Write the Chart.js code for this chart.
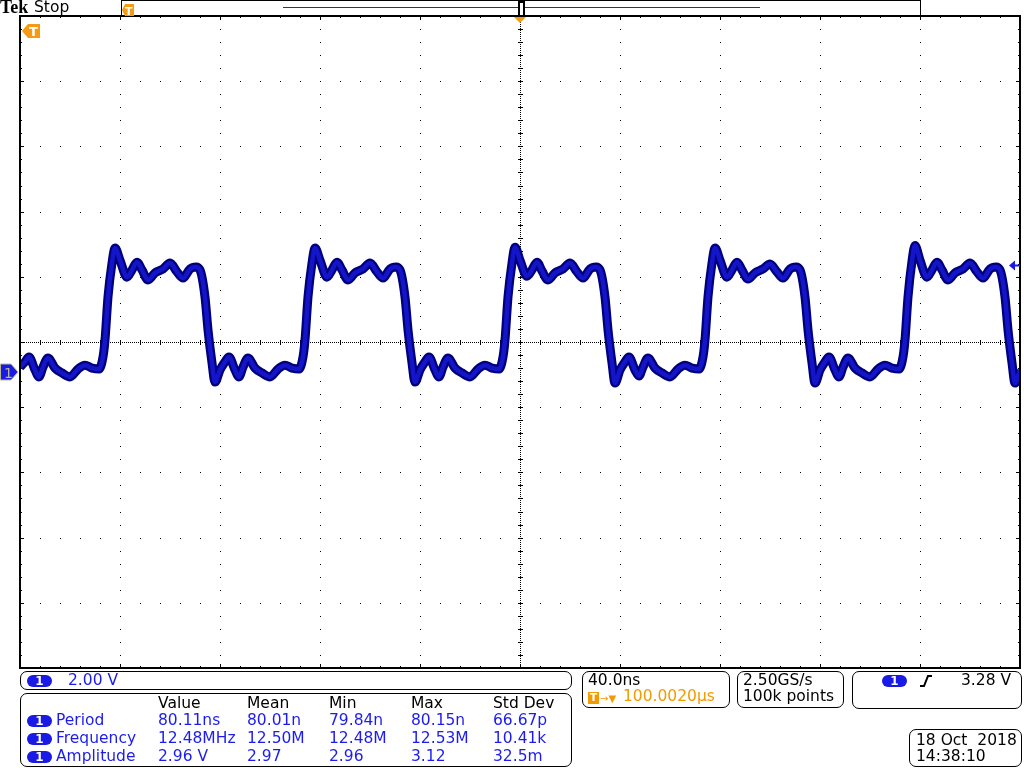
<!DOCTYPE html>
<html>
<head>
<meta charset="utf-8">
<title>Tek Stop - CH1 capture</title>
<script src="https://cdn.jsdelivr.net/npm/chart.js@4.4.1/dist/chart.umd.min.js"></script>
<style>
  body { margin: 0; background: #fff; width: 1024px; height: 768px; overflow: hidden; position: relative;
         font-family: "DejaVu Sans", sans-serif; font-size: 15.5px; }
  #scope { position: absolute; left: 0; top: 0; }
  .t { position: absolute; white-space: pre; }
  .box { position: absolute; border: 1px solid #000; border-radius: 7px; box-sizing: border-box; }
  .badge { position: absolute; width: 25px; height: 12px; border-radius: 6px; background: #1a1ae6; color: #fff;
           font-size: 12px; font-weight: bold; text-align: center; line-height: 12px; }
  .blue { color: #1c1cf0; }
  .orange { color: #f29a00; }
</style>
</head>
<body>
<canvas id="scope" width="1024" height="768"></canvas>
<div id="overlay"></div>
<script>
// CH1 trace, time in ns (trigger at 0), level in volts
var timeNs = [
  -200, -198, -196.4, -194, -192.4, -190.8, -188.8, -186, -183.2, -180, -176.8, -174, -171.2, -168.4, -166.8, -166,
  -164.8, -163.2, -162, -160, -157.2, -155.2, -153.2, -151.2, -148.8, -146, -142.8, -140, -137.2, -134.8, -132, -129.6,
  -128, -126, -124.8, -123.2, -122, -120, -118, -116.4, -114, -112.4, -110.8, -108.8, -106, -103.2, -100, -96.8, -94,
  -91.2, -88.4, -86.8, -86, -84.8, -83.2, -82, -80, -77.2, -75.2, -73.2, -71.2, -68.8, -66, -62.8, -60, -57.2, -54.8, -52, -49.6,
  -48, -46, -44.8, -43.2, -42, -40, -38, -36.4, -34, -32.4, -30.8, -28.8, -26, -23.2, -20, -16.8, -14,
  -11.2, -8.4, -6.8, -6, -4.8, -3.2, -2, 0, 2.8, 4.8, 6.8, 8.8, 11.2, 14, 17.2, 20, 22.8, 25.2, 28, 30.4,
  32, 34, 35.2, 36.8, 38, 40, 42, 43.6, 46, 47.6, 49.2, 51.2, 54, 56.8, 60, 63.2, 66,
  68.8, 71.6, 73.2, 74, 75.2, 76.8, 78, 80, 82.8, 84.8, 86.8, 88.8, 91.2, 94, 97.2, 100, 102.8, 105.2, 108, 110.4,
  112, 114, 115.2, 116.8, 118, 120, 122, 123.6, 126, 127.6, 129.2, 131.2, 134, 136.8, 140, 143.2, 146,
  148.8, 151.6, 153.2, 154, 155.2, 156.8, 158, 160, 162.8, 164.8, 166.8, 168.8, 171.2, 174, 177.2, 180, 182.8, 185.2, 188, 190.4,
  192, 194, 195.2, 196.8, 198, 200
];
var ch1Volts = [
  0.15, 0.31, 0.46, 0.06, -0.15, 0.15, 0.43, 0.12, -0.03, -0.15, 0.09, 0.21, 0.12, 0.09, 0.46, 0.98,
  2.30, 3.34, 3.80, 3.43, 2.91, 3.13, 3.37, 3.13, 2.82, 3.04, 3.16, 3.34, 3.07, 2.88, 3.16, 3.22,
  3.13, 2.30, 1.29, 0.28, -0.31, 0.06, 0.31, 0.46, 0.06, -0.15, 0.15, 0.43, 0.12, -0.03, -0.15, 0.09, 0.21,
  0.12, 0.09, 0.46, 0.98, 2.30, 3.34, 3.80, 3.43, 2.91, 3.13, 3.37, 3.13, 2.82, 3.04, 3.16, 3.34, 3.07, 2.88, 3.16, 3.22,
  3.13, 2.30, 1.29, 0.28, -0.31, 0.06, 0.31, 0.46, 0.06, -0.15, 0.15, 0.43, 0.12, -0.03, -0.15, 0.09, 0.21,
  0.12, 0.09, 0.46, 0.98, 2.30, 3.34, 3.83, 3.43, 2.94, 3.13, 3.37, 3.10, 2.82, 3.04, 3.16, 3.34, 3.07, 2.88, 3.16, 3.22,
  3.13, 2.30, 1.29, 0.28, -0.34, 0.06, 0.31, 0.46, 0.06, -0.12, 0.15, 0.43, 0.12, -0.03, -0.15, 0.09, 0.21,
  0.12, 0.09, 0.46, 0.98, 2.30, 3.34, 3.80, 3.43, 2.91, 3.13, 3.37, 3.13, 2.85, 3.04, 3.16, 3.31, 3.07, 2.88, 3.16, 3.22,
  3.13, 2.30, 1.29, 0.28, -0.34, 0.06, 0.31, 0.46, 0.06, -0.15, 0.15, 0.43, 0.12, -0.03, -0.15, 0.09, 0.21,
  0.12, 0.09, 0.46, 0.98, 2.30, 3.40, 3.88, 3.43, 2.91, 3.13, 3.37, 3.13, 2.82, 3.04, 3.16, 3.34, 3.07, 2.88, 3.16, 3.22,
  3.13, 2.30, 1.29, 0.28, -0.34, 0.06
];

var nsPerDiv = 40.0;
var voltsPerDiv = 2.00;
var ch1PositionDiv = -0.46;   // ground sits just below screen centre
var triggerLevelV = 3.28;

var measureCols = ['Value', 'Mean', 'Min', 'Max', 'Std Dev'];
var measureNames = ['Period', 'Frequency', 'Amplitude'];
var periodStats = ['80.11ns', '80.01n', '79.84n', '80.15n', '66.67p'];
var freqStats = ['12.48MHz', '12.50M', '12.48M', '12.53M', '10.41k'];
var amplStats = ['2.96 V', '2.97', '2.96', '3.12', '32.5m'];

var tracePoints = timeNs.map(function (t, i) { return { x: t, y: ch1Volts[i] }; });

// graticule: dotted cross, dotted division lines, ticks on the frame
var scopeGrid = {
    id: 'scopeGrid',
    beforeDatasetsDraw: function (chart) {
        var ctx = chart.ctx, a = chart.chartArea;
        var dx = (a.right - a.left) / 10, dy = (a.bottom - a.top) / 10;
        ctx.save();
        ctx.fillStyle = '#000';
        for (var i = 1; i < 10; i++) {
            if (i === 5) continue;
            var gx = Math.round(a.left + i * dx), gy = Math.round(a.top + i * dy);
            for (var k = 1; k < 50; k++) {
                ctx.fillRect(gx, Math.round(a.top + k * dy / 5), 1, 1);
                ctx.fillRect(Math.round(a.left + k * dx / 5), gy, 1, 1);
            }
        }
        var cx = Math.round(a.left + 5 * dx), cy = Math.round(a.top + 5 * dy);
        for (var y = a.top; y < a.bottom; y += 2) ctx.fillRect(cx, y, 1, 1);
        for (var x = a.left; x < a.right; x += 2) ctx.fillRect(x, cy, 1, 1);
        for (var k = 1; k < 50; k++) {
            var len = (k % 5 === 0) ? 4 : 2;
            var mx = Math.round(a.left + k * dx / 5), my = Math.round(a.top + k * dy / 5);
            ctx.fillRect(cx - 2, my, 5, 1);
            ctx.fillRect(mx, cy - 2, 1, 5);
            ctx.fillRect(mx, a.top, 1, len);
            ctx.fillRect(mx, a.bottom - len, 1, len);
            ctx.fillRect(a.left, my, len, 1);
            ctx.fillRect(a.right - len, my, len, 1);
        }
        ctx.restore();
    },
    afterDatasetsDraw: function (chart) {
        var ctx = chart.ctx, a = chart.chartArea;
        var ys = chart.scales.y;
        ctx.save();
        ctx.strokeStyle = '#000';
        ctx.lineWidth = 2;
        ctx.strokeRect(a.left, a.top, a.right - a.left, a.bottom - a.top);

        // record view bar at top
        ctx.lineWidth = 1;
        ctx.strokeRect(121.5, 0.5, 799, 16);
        ctx.strokeStyle = '#2424c0';
        ctx.beginPath(); ctx.moveTo(283, 7.5); ctx.lineTo(760, 7.5); ctx.stroke();
        ctx.fillStyle = '#000';
        ctx.fillRect(518, 1, 7, 15);
        ctx.fillStyle = '#fff';
        ctx.fillRect(520, 3, 3, 12);
        ctx.fillStyle = '#f59a12';
        ctx.beginPath(); ctx.moveTo(122, 10); ctx.lineTo(125, 4); ctx.lineTo(134, 4); ctx.lineTo(134, 16); ctx.lineTo(125, 16); ctx.closePath(); ctx.fill();
        // trigger position marker under the bar
        var cx = (a.left + a.right) / 2;
        ctx.beginPath(); ctx.moveTo(cx - 6, 17); ctx.lineTo(cx + 6, 17); ctx.lineTo(cx, 23); ctx.closePath(); ctx.fill();
        // off-screen trigger marker, upper left
        ctx.beginPath(); ctx.moveTo(22, 31); ctx.lineTo(28, 24); ctx.lineTo(40, 24); ctx.lineTo(40, 38); ctx.lineTo(28, 38); ctx.closePath(); ctx.fill();

        // channel 1 ground marker
        var g = Math.round(ys.getPixelForValue(0));
        ctx.fillStyle = '#1a1ae6';
        ctx.strokeStyle = '#b8b890';
        ctx.beginPath(); ctx.moveTo(0.5, g - 8); ctx.lineTo(11, g - 8); ctx.lineTo(18, g); ctx.lineTo(11, g + 8); ctx.lineTo(0.5, g + 8); ctx.closePath();
        ctx.fill(); ctx.stroke();

        // trigger level arrow on the right
        var tl = Math.round(ys.getPixelForValue(triggerLevelV)) + 0.5;
        ctx.strokeStyle = '#1a1ae6';
        ctx.lineWidth = 2;
        ctx.beginPath(); ctx.moveTo(1012, tl); ctx.lineTo(1020, tl); ctx.stroke();
        ctx.beginPath(); ctx.moveTo(1009, tl); ctx.lineTo(1015, tl - 5); ctx.lineTo(1015, tl + 5); ctx.closePath(); ctx.fillStyle = '#1a1ae6'; ctx.fill();

        // rising slope symbol in trigger readout
        ctx.strokeStyle = '#000';
        ctx.lineWidth = 2;
        ctx.beginPath(); ctx.moveTo(920, 686); ctx.lineTo(924, 686); ctx.lineTo(928, 676); ctx.lineTo(932, 676); ctx.stroke();
        ctx.restore();
    }
};

var ctx = document.getElementById('scope').getContext('2d');
var scopeChart = new Chart(ctx, {
    type: 'line',
    data: {
        datasets: [
            {
                data: tracePoints,
                borderColor: '#1414c8',
                borderWidth: 4.5,
                pointRadius: 0,
                cubicInterpolationMode: 'monotone'
            },
            {
                data: tracePoints,
                borderColor: '#00007c',
                borderWidth: 9,
                pointRadius: 0,
                cubicInterpolationMode: 'monotone'
            }
        ]
    },
    options: {
        responsive: false,
        animation: false,
        layout: { padding: { left: 20, top: 16, right: 4, bottom: 100 } },
        plugins: { legend: { display: false }, tooltip: { enabled: false } },
        scales: {
            x: { type: 'linear', display: false, min: -5 * nsPerDiv, max: 5 * nsPerDiv },
            y: { type: 'linear', display: false,
                 min: (-5 - ch1PositionDiv) * voltsPerDiv, max: (5 - ch1PositionDiv) * voltsPerDiv }
        }
    },
    plugins: [scopeGrid]
});

// readout text, placed by baseline
var overlay = document.getElementById('overlay');
function label(text, x, baseline, cls, style) {
    var d = document.createElement('div');
    d.className = 't ' + (cls || '');
    d.textContent = text;
    var fs = (style && style.fontSize) ? parseFloat(style.fontSize) : 15.5;
    d.style.fontSize = fs + 'px';
    d.style.lineHeight = fs + 'px';
    d.style.left = x + 'px';
    d.style.top = (baseline - 0.846 * fs) + 'px';
    if (style) for (var k in style) d.style[k] = style[k];
    overlay.appendChild(d);
    return d;
}
function box(x, y, w, h) {
    var d = document.createElement('div');
    d.className = 'box';
    d.style.left = x + 'px'; d.style.top = y + 'px';
    d.style.width = w + 'px'; d.style.height = h + 'px';
    overlay.appendChild(d);
}
function badge(x, y) {
    var d = document.createElement('div');
    d.className = 'badge';
    d.textContent = '1';
    d.style.left = x + 'px'; d.style.top = y + 'px';
    overlay.appendChild(d);
}

label('Tek', 0, 13, '', { fontFamily: '"Liberation Serif", serif', fontWeight: 'bold', fontSize: '18px', top: '-2px' });
label('Stop', 34, 13);
label('T', 125, 15, '', { fontSize: '11px', color: '#fff', fontWeight: 'bold' });
label('T', 29, 36, '', { fontSize: '13px', color: '#fff', fontWeight: 'bold' });
var gpx = scopeChart.scales.y.getPixelForValue(0);
label('1', 4, gpx + 6, '', { fontSize: '14px', color: '#b8b890' });

// vertical scale box
box(20, 671, 552, 19);
badge(27, 675);
label(voltsPerDiv.toFixed(2) + ' V', 68, 686, 'blue');

// measurement table
box(20, 693, 552, 74);
var colX = [158, 247, 329, 411, 493];
var rowBase = [726, 744, 762];
var stats = [periodStats, freqStats, amplStats];
measureCols.forEach(function (c, i) { label(c, colX[i], 709); });
measureNames.forEach(function (n, r) {
    badge(27, rowBase[r] - 11);
    label(n, 56, rowBase[r], 'blue');
    stats[r].forEach(function (v, i) { label(v, colX[i], rowBase[r], 'blue'); });
});

// horizontal readout
box(582, 671, 148, 37);
label(nsPerDiv.toFixed(1) + 'ns', 588, 686);
var tb = document.createElement('div');
tb.className = 't';
tb.textContent = 'T';
tb.style.cssText = 'left:588px;top:692px;width:11px;height:12px;background:#f29a00;color:#fff;font-size:11px;font-weight:bold;line-height:12px;text-align:center;';
overlay.appendChild(tb);
label('\u2192\u25BC', 600, 702, 'orange', { fontSize: '10px' });
label('100.0020\u00B5s', 623, 702, 'orange');

box(737, 671, 107, 37);
label('2.50GS/s', 743, 686);
label('100k points', 743, 702);

box(852, 671, 170, 38);
badge(882, 675);
label(triggerLevelV.toFixed(2) + ' V', 961, 686);

box(909, 729, 113, 38);
label('18 Oct  2018', 916, 746);
label('14:38:10', 916, 762);
</script>
</body>
</html>
